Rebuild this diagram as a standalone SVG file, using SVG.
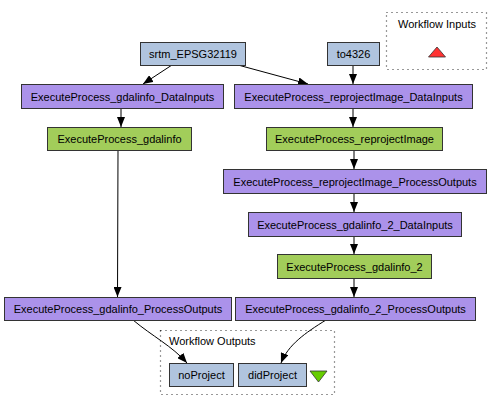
<svg xmlns="http://www.w3.org/2000/svg" width="500" height="410" viewBox="0 0 500 410">
<defs>
<marker id="ah" viewBox="0 0 10 8" refX="10" refY="4" markerWidth="10" markerHeight="8" markerUnits="userSpaceOnUse" orient="auto">
<path d="M0,0 L10,4 L0,8 Z" fill="#000"/>
</marker>
<style>
text{font-family:"Liberation Sans",Arial,sans-serif;font-size:11px;fill:#000;text-anchor:middle}
.port rect{fill:#b0c4de;stroke:#333;stroke-width:1}
.split rect{fill:#ab92ea;stroke:#333;stroke-width:1}
.proc rect{fill:#a2cd5a;stroke:#333;stroke-width:1}
.cluster{fill:none;stroke:#333;stroke-width:1.2;stroke-dasharray:1 4}
#edges path{fill:none;stroke:#000;stroke-width:1;marker-end:url(#ah)}
</style>
</defs>
<rect width="500" height="410" fill="#fff"/>
<g id="workflow_inputs">
<rect class="cluster" x="386.5" y="12.5" width="100" height="57"/>
<text x="437" y="28">Workflow Inputs</text>
<path d="M437,47 L445.5,57 L428.5,57 Z" fill="#ff3333" stroke="#333" stroke-width="0.8"/>
</g>
<g id="workflow_outputs">
<rect class="cluster" x="160.5" y="330.5" width="174" height="64"/>
<text x="169" y="345" style="text-anchor:start">Workflow Outputs</text>
<path d="M310,371 L327,371 L318.5,382 Z" fill="#66cd00" stroke="#333" stroke-width="0.8"/>
</g>
<g id="edges">
<path d="M172,65 L143,84"/>
<path d="M238,65 L308,84"/>
<path d="M353,65 L353,84"/>
<path d="M121,108 L121,127"/>
<path d="M353,108 L353,127"/>
<path d="M354,150 L354,169"/>
<path d="M354,193 L354,212"/>
<path d="M354,236 L354,254"/>
<path d="M354,278 L354,297"/>
<path d="M118,150 L117.5,297"/>
<path d="M133,320 C152,336 172,346 187,363"/>
<path d="M326,320 C305,333 288,345 281,363"/>
</g>
<g id="srtm_EPSG32119" class="port"><rect x="140.5" y="42.5" width="105" height="23"/><text x="193" y="58">srtm_EPSG32119</text></g>
<g id="to4326" class="port"><rect x="327.5" y="42.5" width="52" height="23"/><text x="353.5" y="58">to4326</text></g>
<g id="ExecuteProcess_gdalinfo_DataInputs" class="split"><rect x="21.5" y="84.5" width="202" height="24"/><text x="122.5" y="100.5">ExecuteProcess_gdalinfo_DataInputs</text></g>
<g id="ExecuteProcess_reprojectImage_DataInputs" class="split"><rect x="234.5" y="84.5" width="238" height="24"/><text x="353.5" y="100.5">ExecuteProcess_reprojectImage_DataInputs</text></g>
<g id="ExecuteProcess_gdalinfo" class="proc"><rect x="47.5" y="127.5" width="144" height="23"/><text x="119.5" y="143">ExecuteProcess_gdalinfo</text></g>
<g id="ExecuteProcess_reprojectImage" class="proc"><rect x="266.5" y="127.5" width="176" height="23"/><text x="354.5" y="143">ExecuteProcess_reprojectImage</text></g>
<g id="ExecuteProcess_reprojectImage_ProcessOutputs" class="split"><rect x="223.5" y="169.5" width="263" height="24"/><text x="355" y="185.5">ExecuteProcess_reprojectImage_ProcessOutputs</text></g>
<g id="ExecuteProcess_gdalinfo_2_DataInputs" class="split"><rect x="248.5" y="212.5" width="213" height="24"/><text x="355" y="228.5">ExecuteProcess_gdalinfo_2_DataInputs</text></g>
<g id="ExecuteProcess_gdalinfo_2" class="proc"><rect x="277.5" y="254.5" width="154" height="24"/><text x="354.5" y="270.5">ExecuteProcess_gdalinfo_2</text></g>
<g id="ExecuteProcess_gdalinfo_ProcessOutputs" class="split"><rect x="4.5" y="297.5" width="227" height="23"/><text x="118" y="313">ExecuteProcess_gdalinfo_ProcessOutputs</text></g>
<g id="ExecuteProcess_gdalinfo_2_ProcessOutputs" class="split"><rect x="235.5" y="297.5" width="240" height="23"/><text x="355.5" y="313">ExecuteProcess_gdalinfo_2_ProcessOutputs</text></g>
<g id="noProject" class="port"><rect x="169.5" y="363.5" width="64" height="23"/><text x="201.5" y="379">noProject</text></g>
<g id="didProject" class="port"><rect x="238.5" y="363.5" width="68" height="23"/><text x="272.5" y="379">didProject</text></g>
</svg>
